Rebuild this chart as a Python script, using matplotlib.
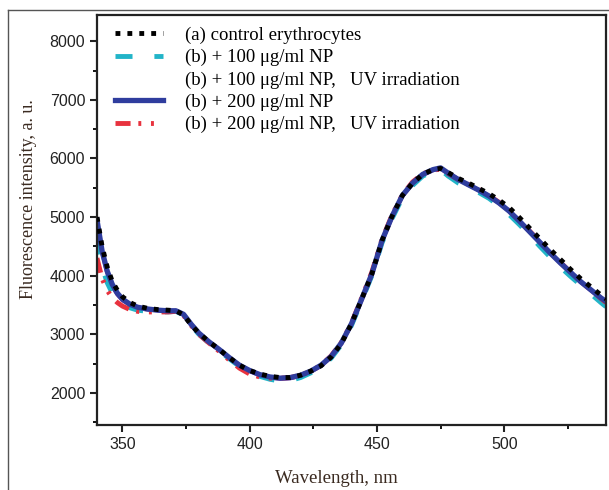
import numpy as np
import matplotlib.pyplot as plt
from matplotlib.ticker import MultipleLocator
from matplotlib.lines import Line2D

# wavelength grid, nm
wavelength = [340, 342, 344, 346, 348, 350, 353, 356, 360, 364, 368, 371, 374, 377,
              380, 384, 388, 392, 396, 400, 404, 408, 412, 416, 420, 424, 428, 432,
              436, 440, 444, 448, 452, 456, 460, 464, 468, 472, 475, 478, 482, 486,
              490, 494, 498, 502, 506, 510, 514, 518, 522, 526, 530, 534, 538, 540]

control = [5000, 4500, 4150, 3900, 3750, 3640, 3540, 3480, 3440, 3420, 3410, 3400, 3330, 3160,
           3020, 2870, 2740, 2600, 2470, 2380, 2320, 2280, 2260, 2260, 2300, 2370, 2460, 2610,
           2840, 3180, 3600, 4030, 4600, 5020, 5370, 5580, 5730, 5810, 5830, 5760, 5660, 5580,
           5490, 5400, 5290, 5160, 4990, 4810, 4630, 4450, 4280, 4110, 3950, 3810, 3670, 3600]

np100 = [4650, 4150, 3880, 3700, 3600, 3520, 3450, 3410, 3390, 3380, 3380, 3390, 3330, 3150,
         3000, 2850, 2720, 2580, 2450, 2350, 2280, 2230, 2200, 2210, 2260, 2340, 2440, 2590,
         2820, 3150, 3570, 4000, 4560, 4980, 5330, 5540, 5700, 5780, 5810, 5700, 5580, 5500,
         5420, 5320, 5190, 5040, 4870, 4690, 4500, 4320, 4150, 3990, 3840, 3690, 3540, 3470]

np100_uv = [4900, 4400, 4050, 3820, 3680, 3580, 3500, 3450, 3420, 3410, 3400, 3400, 3330, 3160,
            3010, 2860, 2730, 2590, 2460, 2370, 2300, 2260, 2240, 2250, 2290, 2360, 2460, 2610,
            2840, 3170, 3590, 4020, 4590, 5010, 5360, 5570, 5720, 5800, 5830, 5740, 5640, 5550,
            5460, 5360, 5240, 5100, 4930, 4750, 4570, 4390, 4220, 4050, 3890, 3750, 3610, 3540]

np200 = [4950, 4420, 4080, 3850, 3700, 3600, 3510, 3460, 3430, 3410, 3400, 3400, 3340, 3170,
         3020, 2870, 2740, 2600, 2470, 2380, 2310, 2270, 2250, 2260, 2300, 2370, 2470, 2620,
         2850, 3180, 3600, 4030, 4600, 5020, 5370, 5580, 5730, 5810, 5840, 5750, 5640, 5550,
         5460, 5360, 5240, 5100, 4930, 4750, 4570, 4390, 4220, 4060, 3900, 3760, 3620, 3560]

np200_uv = [4300, 3950, 3750, 3620, 3540, 3480, 3420, 3390, 3380, 3380, 3380, 3390, 3320, 3150,
            3000, 2850, 2710, 2560, 2420, 2320, 2270, 2250, 2250, 2260, 2300, 2370, 2470, 2630,
            2860, 3190, 3620, 4060, 4620, 5040, 5380, 5600, 5740, 5800, 5820, 5740, 5640, 5560,
            5470, 5370, 5250, 5110, 4940, 4760, 4580, 4400, 4230, 4060, 3900, 3760, 3610, 3540]

labels = ["(a) control erythrocytes",
          "(b) + 100 \u03bcg/ml NP",
          "(b) + 100 \u03bcg/ml NP,   UV irradiation",
          "(b) + 200 \u03bcg/ml NP",
          "(b) + 200 \u03bcg/ml NP,   UV irradiation"]

serif = "Liberation Serif"
sans = "Liberation Sans"

fig = plt.figure(figsize=(6.09, 4.90), dpi=100)
ax = fig.add_axes([97 / 609, 65 / 490, 509 / 609, 410 / 490])

# outer frame of the picture
fig.add_artist(Line2D([8 / 609, 8 / 609], [0, 1 - 10 / 490], color="#555555", lw=1))
fig.add_artist(Line2D([8 / 609, 1], [1 - 10 / 490, 1 - 10 / 490], color="#555555", lw=1))

h_ctrl, = ax.plot(wavelength, control, color="black", lw=3.5, dashes=(1, 1.45),
                  dash_capstyle="butt", zorder=3, label=labels[0])
h_100, = ax.plot(wavelength, np100, color="#22b4c8", lw=3.5, dashes=(3.5, 4.5),
                 zorder=2, label=labels[1])
h_100uv, = ax.plot(wavelength, np100_uv, color="#8a3fa8", lw=3,
                   zorder=1, label=labels[2])
h_200, = ax.plot(wavelength, np200, color="#2f3d9e", lw=3.8, zorder=2.5, label=labels[3])
h_200uv, = ax.plot(wavelength, np200_uv, color="#e8323e", lw=3.5,
                   dashes=(3.1, 1.6, 0.6, 2, 0.6, 2), zorder=2.2, label=labels[4])

ax.set_xlim(340, 540)
ax.set_ylim(1450, 8450)
ax.xaxis.set_major_locator(MultipleLocator(50))
ax.xaxis.set_minor_locator(MultipleLocator(25))
ax.yaxis.set_major_locator(MultipleLocator(1000))
ax.yaxis.set_minor_locator(MultipleLocator(500))
ax.tick_params(which="major", direction="out", length=5, width=1.5, labelsize=11.5,
               colors="#222222")
ax.tick_params(which="minor", direction="out", length=3, width=1.3)
for lab in ax.get_xticklabels() + ax.get_yticklabels():
    lab.set_family(sans)
for sp in ax.spines.values():
    sp.set_linewidth(1.6)
    sp.set_color("#222222")

ax.set_xlabel("Wavelength, nm", family=serif, fontsize=13.5, color="#3a2a20")
ax.xaxis.set_label_coords(0.47, -0.11)
ax.set_ylabel("Fluorescence intensity, a. u.", family=serif, fontsize=13, color="#3a2a20")
ax.yaxis.set_label_coords(-0.118, 0.55)

leg = ax.legend(handles=[h_ctrl, h_100, h_100uv, h_200, h_200uv], loc="upper left",
                frameon=False, prop={"family": serif, "size": 13.5}, handlelength=2.6,
                handletextpad=1.15, labelspacing=0.27, borderaxespad=0.0,
                bbox_to_anchor=(0.02, 0.99))
leg.legend_handles[2].set_visible(False)

fig.savefig("out.png", dpi=100)
